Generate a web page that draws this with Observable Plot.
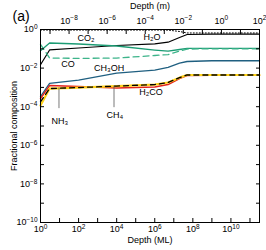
<!DOCTYPE html>
<html><head><meta charset="utf-8">
<script src="https://cdn.jsdelivr.net/npm/d3@7"></script>
<script src="https://cdn.jsdelivr.net/npm/@observablehq/plot@0.6"></script>
<style>body{margin:0;background:#fff}</style>
</head><body><div id="chart"></div>
<script>
// depth in monolayers (ML)
const depthML = [1, 3, 1e2, 1e4, 1e6, 5e6, 2e7, 5e7, 1e9, 3.16e11];
const total  = [0.94, 0.94, 0.94, 0.94, 0.94, 0.93, 0.79, 0.66, 0.66, 0.66];
const H2O    = [0.015, 0.087, 0.11, 0.148, 0.18, 0.22, 0.385, 0.55, 0.57, 0.57];
const CO2    = [0.08, 0.2, 0.177, 0.14, 0.086, 0.075, 0.092, 0.105, 0.105, 0.105];
const CO     = [0.17, 0.033, 0.032, 0.033, 0.045, 0.05, 0.077, 0.097, 0.1, 0.1];
const CH3OH  = [3.3e-4, 1.6e-3, 2.4e-3, 5.5e-3, 7.9e-3, 0.011, 0.018, 0.022, 0.024, 0.024];
const H2CO   = [2.6e-4, 1.24e-3, 1.1e-3, 9.2e-4, 1.04e-3, 1.4e-3, 2.9e-3, 4.1e-3, 4.2e-3, 4.2e-3];
const NH3    = [1.15e-4, 8.7e-4, 9.8e-4, 1.17e-3, 1.4e-3, 1.8e-3, 3.2e-3, 4.4e-3, 4.4e-3, 4.4e-3];
const CH4    = [1.8e-4, 8.7e-4, 9.8e-4, 1.17e-3, 1.4e-3, 1.8e-3, 3.2e-3, 4.4e-3, 4.4e-3, 4.4e-3];

// tick exponents
const bottomExp = [0, 2, 4, 6, 8, 10];
const bottomMinorExp = [0,1,2,3,4,5,6,7,8,9,10,11];
const topExp = [-8, -6, -4, -2, 0, 2];          // depth in m
const topMinorExp = [-9,-8,-7,-6,-5,-4,-3,-2,-1,0,1,2];
const yExp = [0, -2, -4, -6, -8, -10];
const yMinorExp = [0,-1,-2,-3,-4,-5,-6,-7,-8,-9,-10];
const mPerMLexp = -9.5; // 1 ML = 10^-9.5 m

// species labels
const labels = [
  {t: "CO₂",   x: 10**2.39, y: 10**-0.47},
  {t: "H₂O",   x: 10**5.85, y: 10**-0.42},
  {t: "CO",    x: 10**1.44, y: 10**-1.78},
  {t: "CH₃OH", x: 10**3.6,  y: 10**-2.02},
  {t: "H₂CO",  x: 10**5.8,  y: 10**-3.22},
  {t: "CH₄",   x: 10**3.91, y: 10**-4.42},
  {t: "NH₃",   x: 10**1.02, y: 10**-4.74}
];
const leaders = [
  {x: 10**0.97, y1: 10**-3.03, y2: 10**-4.1},
  {x: 10**3.86, y1: 10**-2.93, y2: 10**-4.05}
];

const fmt = e => "10^" + e;
const series = (vals) => depthML.map((d, i) => ({d, v: vals[i]}));
const font = "'Liberation Sans', Arial, sans-serif";

const chart = Plot.plot({
  width: 266, height: 250,
  marginLeft: 40, marginRight: 7, marginTop: 29, marginBottom: 28,
  style: {fontFamily: font, fontSize: "9px", background: "#fff", color: "#000"},
  x: {type: "log", domain: [1, 10**11.5]},
  y: {type: "log", domain: [1e-10, 1]},
  marks: [
    Plot.line(series(total), {x: "d", y: "v", stroke: "#000", strokeWidth: 1, strokeDasharray: "1,2"}),
    Plot.line(series(H2O), {x: "d", y: "v", stroke: "#000", strokeWidth: 1.2}),
    Plot.line(series(CO2), {x: "d", y: "v", stroke: "#1c9c74", strokeWidth: 1.3}),
    Plot.line(series(CO), {x: "d", y: "v", stroke: "#3db48a", strokeWidth: 1.3, strokeDasharray: "6,4"}),
    Plot.line(series(CH3OH), {x: "d", y: "v", stroke: "#1f5f80", strokeWidth: 1.3}),
    Plot.line(series(H2CO), {x: "d", y: "v", stroke: "#e3241c", strokeWidth: 1.5}),
    Plot.line(series(NH3), {x: "d", y: "v", stroke: "#ffd21a", strokeWidth: 2.2}),
    Plot.line(series(CH4), {x: "d", y: "v", stroke: "#000", strokeWidth: 1.3, strokeDasharray: "5,4"}),
    Plot.ruleX(leaders, {x: "x", y1: "y1", y2: "y2", stroke: "#555", strokeWidth: 0.8}),
    Plot.text(labels, {x: "x", y: "y", text: "t", fontSize: 9, fill: "#000"}),
    // bottom axis
    Plot.axisX({anchor: "bottom", ticks: bottomExp.map(e => 10**e), tickFormat: d => fmt(Math.round(Math.log10(d))), tickSize: 0, tickPadding: 3, label: "Depth (ML)", labelAnchor: "center", labelOffset: 20, labelArrow: false}),
    Plot.axisX({anchor: "bottom", ticks: bottomMinorExp.map(e => 10**e), tickFormat: () => "", tickSize: -4, label: null}),
    // top axis (depth in m)
    Plot.axisX({anchor: "top", ticks: topExp.map(e => 10**(e - mPerMLexp)), tickFormat: d => fmt(Math.round(Math.log10(d) + mPerMLexp)), tickSize: 0, tickPadding: 6, label: "Depth (m)", labelAnchor: "center", labelOffset: 27, labelArrow: false}),
    Plot.axisX({anchor: "top", ticks: topMinorExp.map(e => 10**(e - mPerMLexp)), tickFormat: () => "", tickSize: -4, label: null}),
    // left axis
    Plot.axisY({anchor: "left", ticks: yExp.map(e => 10**e), tickFormat: d => fmt(Math.round(Math.log10(d))), tickSize: 0, tickPadding: 3, label: "Fractional composition", labelAnchor: "center", labelOffset: 30, labelArrow: false}),
    Plot.axisY({anchor: "left", ticks: yMinorExp.map(e => 10**e), tickFormat: () => "", tickSize: -4, label: null}),
    Plot.axisY({anchor: "right", ticks: yMinorExp.map(e => 10**e), tickFormat: () => "", tickSize: -4, label: null}),
    Plot.frame({stroke: "#000", strokeWidth: 1}),
    Plot.text(["(a)"], {frameAnchor: "top-left", dx: -28, dy: -18, fontSize: 14, text: d => d})
  ]
});
// render exponents as real superscripts
const NS = "http://www.w3.org/2000/svg";
chart.querySelectorAll("text").forEach(t => {
  const m = /^10\^(-?\d+)$/.exec(t.textContent);
  if (!m) return;
  t.textContent = "";
  const base = document.createElementNS(NS, "tspan");
  base.textContent = "10";
  const ex = document.createElementNS(NS, "tspan");
  ex.textContent = m[1].replace("-", "\u2212");
  ex.setAttribute("dy", "-0.5em");
  ex.setAttribute("font-size", "6.5px");
  t.appendChild(base);
  t.appendChild(ex);
});
document.getElementById("chart").appendChild(chart);
</script>
</body></html>
